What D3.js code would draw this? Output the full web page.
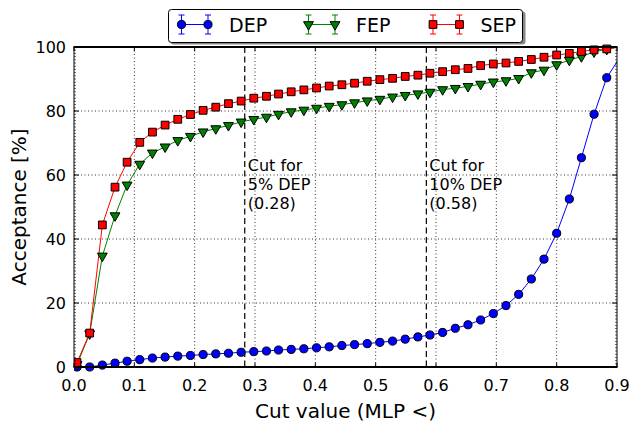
<!DOCTYPE html>
<html lang="en">
<head>
  <meta charset="UTF-8">
  <title>Acceptance vs cut value</title>
  <style>
    body { margin: 0; background: #fff; }
    text { font-family: "DejaVu Sans", sans-serif; }
  </style>
</head>
<body>
<script src="https://d3js.org/d3.v7.min.js"></script>
<div class="chart-container"></div>
<script>
  // cut values (MLP <) where the points sit
  const cuts = [0.005, 0.026, 0.047, 0.068, 0.088, 0.109, 0.130, 0.151, 0.172, 0.193,
                0.214, 0.235, 0.256, 0.277, 0.298, 0.319, 0.339, 0.360, 0.381, 0.402,
                0.423, 0.444, 0.465, 0.486, 0.507, 0.528, 0.549, 0.570, 0.590, 0.611,
                0.632, 0.653, 0.674, 0.695, 0.716, 0.737, 0.758, 0.779, 0.800, 0.821,
                0.841, 0.862, 0.883, 0.904];

  const dep = [0.0, 0.0, 0.6, 1.2, 1.8, 2.3, 2.8, 3.1, 3.4, 3.6,
               3.9, 4.1, 4.3, 4.6, 4.8, 5.0, 5.3, 5.5, 5.7, 6.0,
               6.3, 6.7, 7.0, 7.3, 7.7, 8.1, 8.7, 9.4, 10.0, 10.8,
               12.1, 13.2, 14.7, 16.7, 19.2, 22.7, 27.5, 33.7, 41.8, 52.5,
               65.4, 79.0, 90.4, 96.5];

  const fep = [0.8, 10.4, 34.7, 47.3, 56.9, 63.4, 66.9, 68.8, 70.8, 72.1,
               73.5, 74.5, 75.5, 76.6, 77.4, 78.1, 79.0, 79.8, 80.3, 80.9,
               81.5, 82.0, 82.6, 83.2, 83.7, 84.4, 84.9, 85.4, 85.9, 86.7,
               87.1, 87.7, 88.4, 89.1, 89.5, 90.2, 92.0, 92.8, 94.5, 95.9,
               97.0, 98.5, 99.3, 100.0];

  const sep = [1.4, 10.6, 44.4, 56.2, 64.0, 70.2, 73.4, 75.6, 77.4, 78.9,
               80.2, 81.2, 82.3, 83.1, 84.0, 84.6, 85.3, 86.0, 86.6, 87.2,
               87.8, 88.2, 88.7, 89.3, 89.8, 90.2, 90.8, 91.2, 91.8, 92.3,
               92.9, 93.3, 94.2, 94.7, 95.0, 95.5, 96.1, 96.8, 97.5, 98.0,
               98.6, 99.1, 99.4, 100.0];

  const xTicks = [0.0, 0.1, 0.2, 0.3, 0.4, 0.5, 0.6, 0.7, 0.8, 0.9];
  const yTicks = [0, 20, 40, 60, 80, 100];

  // vertical cut markers
  const cutLines = [
    {x: 0.283, lines: ["Cut for", "5% DEP", "(0.28)"]},
    {x: 0.584, lines: ["Cut for", "10% DEP", "(0.58)"]}
  ];

  const series = [
    {name: "DEP", values: dep, color: "#0000ff", symbol: d3.symbolCircle, size: 52},
    {name: "FEP", values: fep, color: "#008000", symbol: d3.symbolTriangle, size: 42, flip: true},
    {name: "SEP", values: sep, color: "#ff0000", symbol: d3.symbolSquare, size: 60}
  ];

  const W = 631, H = 430;
  const pL = 74, pR = 617, pT = 47, pB = 367;

  const x = d3.scaleLinear().domain([0, 0.9]).range([pL, pR]);
  const y = d3.scaleLinear().domain([0, 100]).range([pB, pT]);

  const svg = d3.select(".chart-container")
    .append("svg")
    .attr("width", W)
    .attr("height", H);

  svg.append("defs").append("clipPath")
    .attr("id", "plot-clip")
    .append("rect")
    .attr("x", pL).attr("y", pT - 6)
    .attr("width", pR - pL).attr("height", pB - pT + 12);

  // grid
  const grid = svg.append("g");
  grid.selectAll(".vg")
    .data(xTicks.slice(1, -1))
    .join("line")
    .attr("x1", d => x(d)).attr("x2", d => x(d))
    .attr("y1", pT).attr("y2", pB)
    .attr("stroke", "#333").attr("stroke-width", 1)
    .attr("stroke-dasharray", "1,2.5");
  grid.selectAll(".hg")
    .data(yTicks.slice(1, -1))
    .join("line")
    .attr("x1", pL).attr("x2", pR)
    .attr("y1", d => y(d)).attr("y2", d => y(d))
    .attr("stroke", "#333").attr("stroke-width", 1)
    .attr("stroke-dasharray", "1,2.5");

  // cut lines
  const cutG = svg.append("g");
  cutLines.forEach(c => {
    cutG.append("line")
      .attr("x1", x(c.x)).attr("x2", x(c.x))
      .attr("y1", pT).attr("y2", pB)
      .attr("stroke", "#000").attr("stroke-width", 1.2)
      .attr("stroke-dasharray", "6,3.5");
    const t = cutG.append("text")
      .attr("font-size", 16)
      .attr("fill", "#000");
    c.lines.forEach((s, i) => {
      t.append("tspan").attr("x", x(c.x) + 3).attr("y", 171 + i * 19).text(s);
    });
  });

  // series
  const plot = svg.append("g").attr("clip-path", "url(#plot-clip)");
  series.forEach(s => {
    const pts = cuts.map((c, i) => [c, s.values[i]]);
    plot.append("path")
      .datum(pts)
      .attr("fill", "none")
      .attr("stroke", s.color)
      .attr("stroke-width", 1)
      .attr("d", d3.line().x(d => x(d[0])).y(d => y(d[1])));
  });
  series.forEach(s => {
    const pts = cuts.map((c, i) => [c, s.values[i]]).filter(d => d[0] <= 0.9);
    plot.selectAll(null)
      .data(pts)
      .join("path")
      .attr("d", d3.symbol().type(s.symbol).size(s.size))
      .attr("transform", d => `translate(${x(d[0])},${y(d[1])})${s.flip ? " rotate(180)" : ""}`)
      .attr("fill", s.color)
      .attr("stroke", "#000")
      .attr("stroke-width", 1);
  });

  // frame + ticks
  const axes = svg.append("g");
  axes.selectAll(".ymin")
    .data(d3.range(0, 101, 1))
    .join("g")
    .each(function(d) {
      d3.select(this).append("line")
        .attr("x1", pL).attr("x2", pL + 2)
        .attr("y1", y(d)).attr("y2", y(d))
        .attr("stroke", "#000").attr("stroke-width", 0.6);
      d3.select(this).append("line")
        .attr("x1", pR - 2).attr("x2", pR)
        .attr("y1", y(d)).attr("y2", y(d))
        .attr("stroke", "#000").attr("stroke-width", 0.6);
    });
  axes.selectAll(".xt")
    .data(xTicks)
    .join("g")
    .each(function(d) {
      d3.select(this).append("line")
        .attr("x1", x(d)).attr("x2", x(d))
        .attr("y1", pB).attr("y2", pB - 4)
        .attr("stroke", "#000");
      d3.select(this).append("line")
        .attr("x1", x(d)).attr("x2", x(d))
        .attr("y1", pT).attr("y2", pT + 4)
        .attr("stroke", "#000");
    });
  axes.selectAll(".yt")
    .data(yTicks)
    .join("g")
    .each(function(d) {
      d3.select(this).append("line")
        .attr("x1", pL).attr("x2", pL + 5)
        .attr("y1", y(d)).attr("y2", y(d))
        .attr("stroke", "#000");
      d3.select(this).append("line")
        .attr("x1", pR - 5).attr("x2", pR)
        .attr("y1", y(d)).attr("y2", y(d))
        .attr("stroke", "#000");
    });
  axes.append("line").attr("x1", pL).attr("x2", pL).attr("y1", pT).attr("y2", pB)
    .attr("stroke", "#000").attr("stroke-width", 1);
  axes.append("line").attr("x1", pR).attr("x2", pR).attr("y1", pT).attr("y2", pB)
    .attr("stroke", "#000").attr("stroke-width", 1);
  axes.append("line").attr("x1", pL - 0.5).attr("x2", pR + 0.5).attr("y1", pT).attr("y2", pT)
    .attr("stroke", "#000").attr("stroke-width", 2);
  axes.append("line").attr("x1", pL - 0.5).attr("x2", pR + 0.5).attr("y1", pB).attr("y2", pB)
    .attr("stroke", "#000").attr("stroke-width", 2);

  // tick labels
  svg.append("g").selectAll("text")
    .data(xTicks)
    .join("text")
    .attr("x", d => x(d))
    .attr("y", 391)
    .attr("text-anchor", "middle")
    .attr("font-size", 16)
    .text(d => d3.format(".1f")(d));
  svg.append("g").selectAll("text")
    .data(yTicks)
    .join("text")
    .attr("x", 66)
    .attr("y", d => y(d) + 6)
    .attr("text-anchor", "end")
    .attr("font-size", 16)
    .text(d => d);

  // axis titles
  svg.append("text")
    .attr("x", (pL + pR) / 2)
    .attr("y", 418)
    .attr("text-anchor", "middle")
    .attr("font-size", 20)
    .text("Cut value (MLP <)");
  svg.append("text")
    .attr("transform", `translate(26,${(pT + pB) / 2}) rotate(-90)`)
    .attr("text-anchor", "middle")
    .attr("font-size", 20)
    .text("Acceptance [%]");

  // legend
  const lg = svg.append("g");
  lg.append("rect")
    .attr("x", 170.5).attr("y", 11.5).attr("width", 355).attr("height", 33)
    .attr("rx", 3).attr("fill", "#888");
  lg.append("rect")
    .attr("x", 168.5).attr("y", 9.5).attr("width", 354).attr("height", 33)
    .attr("rx", 3).attr("fill", "#fff").attr("stroke", "#000").attr("stroke-width", 1);
  const legX = [181.5, 308.5, 433];
  series.forEach((s, i) => {
    const x0 = legX[i], x1 = x0 + 26.5, ly = 24.5;
    const g = lg.append("g");
    g.append("line").attr("x1", x0).attr("x2", x1).attr("y1", ly).attr("y2", ly)
      .attr("stroke", s.color).attr("stroke-width", 1);
    [x0, x1].forEach(px => {
      g.append("line").attr("x1", px).attr("x2", px).attr("y1", 15).attr("y2", 34)
        .attr("stroke", s.color).attr("stroke-width", 1);
      g.append("line").attr("x1", px - 3).attr("x2", px + 3).attr("y1", 15).attr("y2", 15)
        .attr("stroke", s.color).attr("stroke-width", 1);
      g.append("line").attr("x1", px - 3).attr("x2", px + 3).attr("y1", 34).attr("y2", 34)
        .attr("stroke", s.color).attr("stroke-width", 1);
      g.append("path")
        .attr("d", d3.symbol().type(s.symbol).size(s.size))
        .attr("transform", `translate(${px},${ly})${s.flip ? " rotate(180)" : ""}`)
        .attr("fill", s.color).attr("stroke", "#000").attr("stroke-width", 1);
    });
    g.append("text")
      .attr("x", x1 + 21).attr("y", ly + 7)
      .attr("font-size", 19)
      .text(s.name);
  });
</script>
</body>
</html>
